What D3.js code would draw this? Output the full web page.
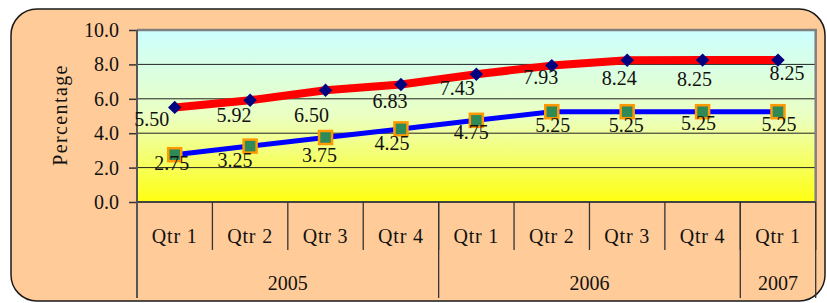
<!DOCTYPE html>
<html><head><meta charset="utf-8">
<script src="https://cdn.jsdelivr.net/npm/d3@7"></script>
<style>html,body{margin:0;padding:0;background:#fff;}svg{display:block;}</style>
</head><body>
<svg id="c" width="827" height="303"></svg>
<script>
// ---- data ----
const quarters = ["Qtr 1","Qtr 2","Qtr 3","Qtr 4","Qtr 1","Qtr 2","Qtr 3","Qtr 4","Qtr 1"];
const years = ["2005","2006","2007"];
const yearSpans = [4,4,1];
const seriesA = [5.50,5.92,6.50,6.83,7.43,7.93,8.24,8.25,8.25];
const seriesB = [2.75,3.25,3.75,4.25,4.75,5.25,5.25,5.25,5.25];
const yTicks = [0,2,4,6,8,10];
const yTitle = "Percentage";
// label offsets (layout only)
const offA = [[-23,12],[-16,15],[-14,25],[-11,16],[-19,14],[-11,11],[-8,18],[-8,19],[9,13]];
const offB = [[-3,8],[-15,14],[-6,17],[-9,14],[-5,12],[1,13],[-1,13],[-4,11],[1,12]];

const svg = d3.select("#c");
const font = "'Liberation Serif','Times New Roman',serif";
const L=137, R=815.7, T=30, B=202;

// outer box
svg.append("rect").attr("x",11).attr("y",9).attr("width",814).attr("height",292)
  .attr("rx",26).attr("ry",26).attr("fill","#FFCC99").attr("stroke","#1a1a1a").attr("stroke-width",1.5);

const defs = svg.append("defs");
const g = defs.append("linearGradient").attr("id","pg").attr("x1",0).attr("y1",0).attr("x2",0).attr("y2",1);
g.append("stop").attr("offset","0").attr("stop-color","#CCFFFF");
g.append("stop").attr("offset","0.5").attr("stop-color","#EBFFC2");
g.append("stop").attr("offset","1").attr("stop-color","#FFFF10");

const x = d3.scaleBand().domain(d3.range(quarters.length)).range([L,R]).padding(0);
const y = d3.scaleLinear().domain([0,10]).range([B,T]);

svg.append("rect").attr("x",L).attr("y",T).attr("width",R-L).attr("height",B-T).attr("fill","url(#pg)");

// gridlines
svg.append("g").selectAll("line").data(yTicks.filter(d=>d>0&&d<10)).join("line")
  .attr("x1",L).attr("x2",R).attr("y1",d=>y(d)).attr("y2",d=>y(d))
  .attr("stroke","#222").attr("stroke-width",1);

// frame top/right
svg.append("path").attr("d",`M${L},${T}H${R}V${B}`).attr("fill","none").attr("stroke","#808080").attr("stroke-width",2.5);

// y axis
const ya = svg.append("g").attr("transform",`translate(${L},0)`)
  .call(d3.axisLeft(y).tickValues(yTicks).tickFormat(d3.format(".1f")).tickSize(8).tickPadding(10));
ya.select(".domain").remove();
ya.selectAll("line").attr("stroke","#333").attr("stroke-width",1.5);
ya.selectAll("text").attr("font-family",font).attr("font-size",20).attr("fill","#111");

// axis lines
svg.append("line").attr("x1",L).attr("x2",L).attr("y1",T).attr("y2",298).attr("stroke","#555").attr("stroke-width",2);
svg.append("line").attr("x1",L).attr("x2",R).attr("y1",B).attr("y2",B).attr("stroke","#444").attr("stroke-width",2);

// x category dividers
const bw = x.bandwidth();
svg.append("g").selectAll("line").data(d3.range(1,quarters.length+1)).join("line")
  .attr("x1",i=>L+i*bw).attr("x2",i=>L+i*bw).attr("y1",B).attr("y2",250)
  .attr("stroke","#333").attr("stroke-width",1.3);
// year dividers
let cum=0; const yearPos=[];
yearSpans.forEach((s,i)=>{yearPos.push([cum,cum+s]);cum+=s;});
svg.append("g").selectAll("line").data(yearPos).join("line")
  .attr("x1",d=>L+d[1]*bw).attr("x2",d=>L+d[1]*bw).attr("y1",B).attr("y2",298)
  .attr("stroke","#333").attr("stroke-width",1.3);

svg.append("g").selectAll("text").data(quarters).join("text")
  .attr("x",(d,i)=>x(i)+bw/2).attr("y",243).attr("text-anchor","middle")
  .attr("font-family",font).attr("font-size",20).attr("letter-spacing",0.8).attr("fill","#111").text(d=>d);
svg.append("g").selectAll("text").data(years).join("text")
  .attr("x",(d,i)=>L+(yearPos[i][0]+yearPos[i][1])/2*bw).attr("y",290).attr("text-anchor","middle")
  .attr("font-family",font).attr("font-size",20).attr("fill","#111").text(d=>d);

svg.append("text").attr("transform","translate(67,115) rotate(-90)").attr("text-anchor","middle")
  .attr("font-family",font).attr("font-size",20).attr("letter-spacing",1.4).attr("fill","#111").text(yTitle);

const cx = i=>x(i)+bw/2;
const line = d3.line().x((d,i)=>cx(i)).y(d=>y(d));
svg.append("path").datum(seriesA).attr("d",line).attr("fill","none").attr("stroke","#FF0000").attr("stroke-width",8).attr("stroke-linejoin","round");
svg.append("path").datum(seriesB).attr("d",line).attr("fill","none").attr("stroke","#0000FF").attr("stroke-width",5).attr("stroke-linejoin","round");

// markers
const sym = d3.symbol().type(d3.symbolDiamond2).size(115);
svg.append("g").selectAll("path").data(seriesA).join("path")
  .attr("transform",(d,i)=>`translate(${cx(i)},${y(d)})`).attr("d",sym).attr("fill","#000080");
svg.append("g").selectAll("rect").data(seriesB).join("rect")
  .attr("x",(d,i)=>cx(i)-6.5).attr("y",d=>y(d)-6.5).attr("width",13).attr("height",13)
  .attr("fill","#2E8B57").attr("stroke","#FF9900").attr("stroke-width",2.5);

// labels
svg.append("g").selectAll("text").data(seriesA).join("text")
  .attr("x",(d,i)=>cx(i)+offA[i][0]).attr("y",(d,i)=>y(d)+offA[i][1]+7)
  .attr("text-anchor","middle").attr("font-family",font).attr("font-size",20).attr("fill","#111")
  .text(d=>d.toFixed(2));
svg.append("g").selectAll("text").data(seriesB).join("text")
  .attr("x",(d,i)=>cx(i)+offB[i][0]).attr("y",(d,i)=>y(d)+offB[i][1]+7)
  .attr("text-anchor","middle").attr("font-family",font).attr("font-size",20).attr("fill","#111")
  .text(d=>d.toFixed(2));
</script>
</body></html>
